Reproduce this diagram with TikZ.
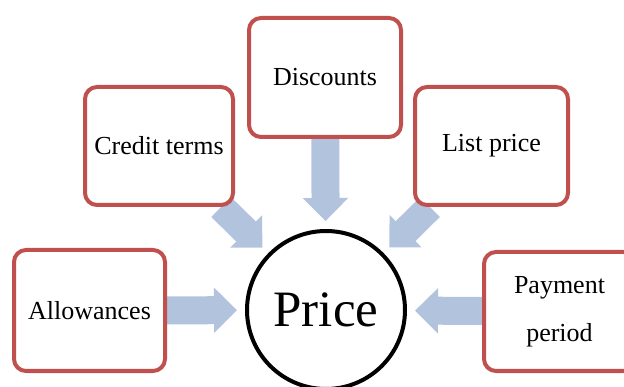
\documentclass[tikz,border=0pt]{standalone}
\usepackage{fontspec}
\setmainfont{Liberation Serif}
\usetikzlibrary{arrows.meta}
\definecolor{boxred}{RGB}{192,80,77}
\definecolor{arrowblue}{RGB}{178,195,222}
\pgfdeclarelayer{bg}
\pgfsetlayers{bg,main}
\tikzset{
  factor/.style={draw=boxred, line width=4pt, rounded corners=12pt, fill=white,
    align=center, inner sep=0pt, font=\fontsize{26}{31}\selectfont},
  hub/.style={circle, draw=black, line width=4pt, fill=white, inner sep=0pt,
    minimum size=158pt, font=\fontsize{51}{57}\selectfont},
  feed/.style={draw=arrowblue, line width=28pt,
    -{Triangle[width=44pt,length=23pt,fill=arrowblue,color=arrowblue]},
    shorten >=8pt}
}
\begin{document}
\begin{tikzpicture}[x=1pt,y=-1pt]
  \useasboundingbox (0,0) rectangle (624,387);
  \clip (0,0) rectangle (624,387);

  % factors around the central price
  \node[factor, minimum width=151pt, minimum height=121pt] (allow) at (89.5,310.5) {Allowances};
  \node[factor, minimum width=148pt, minimum height=118pt] (credit) at (159,146) {Credit terms};
  \node[factor, minimum width=152pt, minimum height=119pt] (disc) at (325,77.5) {Discounts};
  \node[factor, minimum width=153pt, minimum height=118pt] (list) at (491.5,146) {List price};
  \node[factor, minimum width=151pt, minimum height=119pt,
        font=\fontsize{26}{48}\selectfont] (pay) at (559.5,311.5) {Payment\\period};

  \node[hub] (price) at (326,310) {Price};

  % block arrows pointing into the price
  \begin{pgfonlayer}{bg}
    \draw[feed] (allow) -- (price);
    \draw[feed] (credit) -- (price);
    \draw[feed] (disc) -- (price);
    \draw[feed] (list) -- (price);
    \draw[feed] (pay) -- (price);
  \end{pgfonlayer}
\end{tikzpicture}
\end{document}
